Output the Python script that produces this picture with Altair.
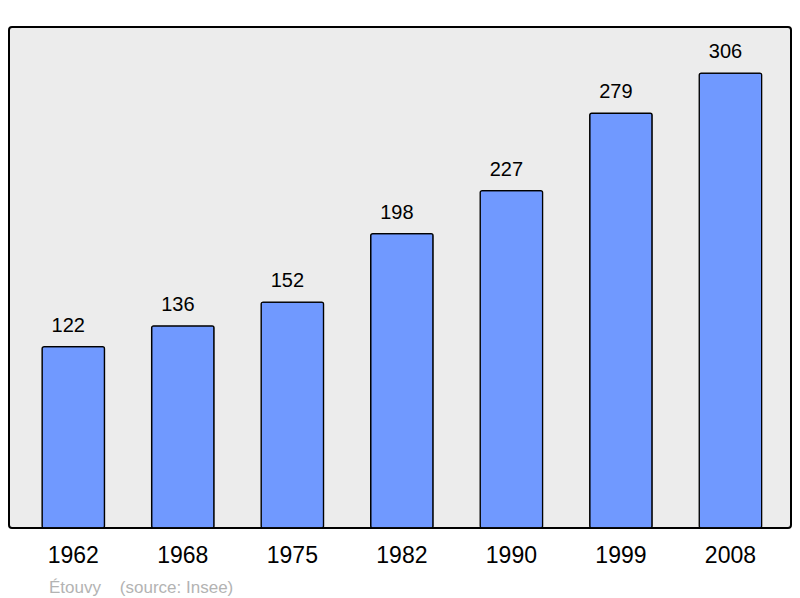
import altair as alt
import pandas as pd

years = ["1962", "1968", "1975", "1982", "1990", "1999", "2008"]
population = [122, 136, 152, 198, 227, 279, 306]

df = pd.DataFrame({"year": years, "pop": population})

x = alt.X("year:N", sort=years, title=None,
          scale=alt.Scale(paddingInner=0.43, paddingOuter=0.285, align=0.53),
          axis=alt.Axis(labelAngle=0, labelFontSize=23, labelColor="#000000",
                        labelFont="Liberation Sans", labelPadding=16,
                        domain=False, ticks=False, grid=False))
y = alt.Y("pop:Q", title=None, scale=alt.Scale(domain=[0, 337], nice=False, zero=True),
          axis=None)

bars = alt.Chart(df).mark_bar(color="#7099ff", stroke="#000000", strokeWidth=1.3,
                              cornerRadius=2).encode(x=x, y=y)
labels = alt.Chart(df).mark_text(baseline="alphabetic", dy=-15, dx=-5, fontSize=20,
                                 font="Liberation Sans", color="#000000").encode(
    x=x, y=y, text="pop:Q")

chart = alt.layer(bars, labels).properties(
    width=782, height=501,
    autosize=alt.AutoSizeParams(type="none"),
    padding={"left": 1, "top": 19, "right": 1, "bottom": 72},
    title=alt.TitleParams("Étouvy\u00a0\u00a0\u00a0\u00a0(source: Insee)", orient="bottom",
                          anchor="start", dx=40, offset=13, fontSize=17,
                          font="Liberation Sans", fontWeight="normal",
                          color="#b3b3b3"),
).configure_view(fill="#ececec", stroke="#000000", strokeWidth=2, cornerRadius=3)

chart.save("out.html", embed_options={"renderer": "svg", "actions": False})
